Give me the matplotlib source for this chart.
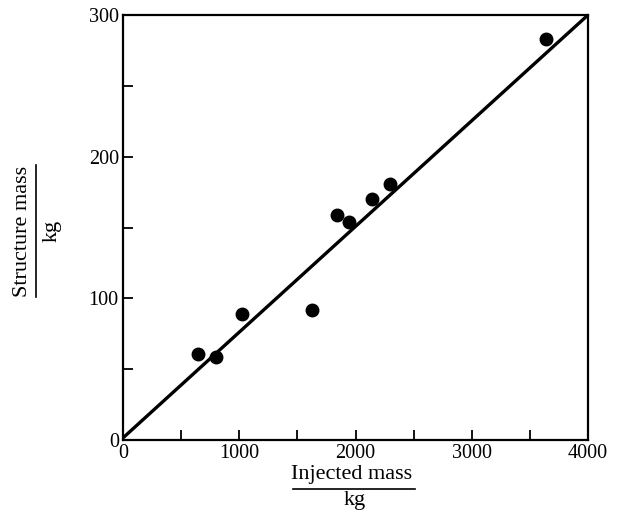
import matplotlib
matplotlib.use("Agg")
import matplotlib.pyplot as plt
from matplotlib.lines import Line2D

injected_mass = [645, 800, 1024, 1626, 1841, 1944, 2142, 2297, 3639]
structure_mass = [60.7, 58.6, 88.9, 91.8, 158.8, 153.9, 170.1, 180.7, 283]
fit_x = [0, 4000]
fit_y = [1.5, 300]
x_ticks = [0, 1000, 2000, 3000, 4000]
y_ticks = [0, 100, 200, 300]

plt.rcParams['font.family'] = ['Liberation Serif', 'DejaVu Serif']

W, H = 620, 513
fig = plt.figure(figsize=(W / 100, H / 100), dpi=100)
ax = fig.add_axes([123 / W, 1 - 440 / H, (588 - 123) / W, (440 - 15) / H])

ax.plot(fit_x, fit_y, color='black', lw=2.4, solid_capstyle='butt', clip_on=False)
ax.plot(injected_mass, structure_mass, 'o', color='black', ms=9, mec='black')

ax.set_xlim(0, 4000)
ax.set_ylim(0, 300)
ax.set_xticks(x_ticks)
ax.set_yticks(y_ticks)
ax.set_xticks([500, 1500, 2500, 3500], minor=True)
ax.set_yticks([50, 150, 250], minor=True)
ax.tick_params(which='both', direction='in', length=7, width=1.3, labelsize=14.5, pad=3)
ax.tick_params(axis='x', which='both', top=False)
ax.tick_params(axis='y', which='both', right=False)
for s in ax.spines.values():
    s.set_linewidth(1.6)

def fx(px):
    return px / W

def fy(py):
    return 1 - py / H

# x-axis label as fraction
fig.text(fx(352), fy(475), 'Injected mass', ha='center', va='center', fontsize=16)
fig.add_artist(Line2D([fx(293), fx(415)], [fy(489), fy(489)], color='black', lw=1.2,
                      transform=fig.transFigure))
fig.text(fx(355), fy(501), 'kg', ha='center', va='center', fontsize=16)

# y-axis label as fraction
fig.text(fx(23), fy(231), 'Structure mass', ha='center', va='center', rotation=90, fontsize=16)
fig.add_artist(Line2D([fx(36), fx(36)], [fy(165), fy(297)], color='black', lw=1.2,
                      transform=fig.transFigure))
fig.text(fx(52), fy(231), 'kg', ha='center', va='center', rotation=90, fontsize=16)

fig.savefig('out.png', dpi=100)
